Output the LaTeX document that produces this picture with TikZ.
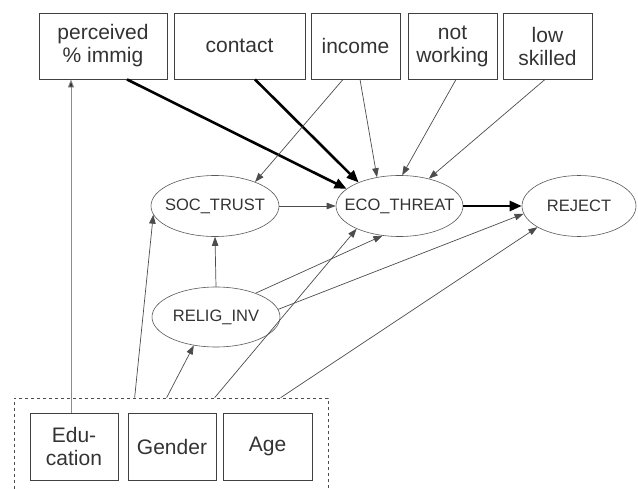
\documentclass[tikz,border=0pt]{standalone}
\usepackage{fontspec}
\setmainfont{Liberation Sans}
\usetikzlibrary{arrows.meta,shapes.geometric,calc}
\begin{document}
\begin{tikzpicture}[x=1pt,y=-1pt,
  box/.style={draw=black!75, line width=0.9pt, text=black!80, font=\fontsize{21}{23}\selectfont, align=center, inner sep=0pt, minimum height=66pt},
  oval/.style={ellipse, draw=black!65, line width=0.6pt, inner sep=0pt, minimum height=61pt, minimum width=128pt,
    label={[text=black!80, font=\fontsize{16.5}{18}\selectfont, inner sep=0pt]center:#1}},
  arr/.style={draw=black!70, line width=0.7pt, -{Triangle[length=9pt,width=6.5pt]}},
  grayarr/.style={draw=black!45, line width=0.8pt, -{Triangle[length=8pt,width=6pt,fill=black!80]}},
  heavy/.style={draw=black, line width=2.6pt, -{Triangle[length=12pt,width=10pt]}},
  grpbox/.style={draw=black!70, dashed, line width=0.7pt, inner sep=0pt}]
\useasboundingbox (0,0) rectangle (638,489);
% top boxes
\node[box, minimum width=128pt] (perc) at (103,46) {perceived\\\% immig};
\node[box, minimum width=131pt] (cont) at (239.5,46) {contact};
\node[box, minimum width=89pt] (inc) at (355.5,46) {income};
\node[box, minimum width=89pt] (notw) at (452.5,46) {not\\working};
\node[box, minimum width=89pt] (lows) at (547.5,46) {low\\skilled};
% ellipses
\node[oval={SOC\_TRUST}] (soc) at (215,206) {};
\node[oval={ECO\_THREAT}, minimum width=127pt] (eco) at (399.5,206) {};
\node[oval={REJECT}, minimum width=114pt] (rej) at (579,206) {};
\node[oval={RELIG\_INV}, minimum height=60pt] (rel) at (216,317) {};
% group of background variables
\node[grpbox, minimum width=314pt, minimum height=100pt] (grp) at (171,448) {};
\node[box, minimum width=88pt, minimum height=67pt] (edu) at (74,446.5) {Edu-\\cation};
\node[box, minimum width=88pt, minimum height=67pt] (gen) at (172,446.5) {Gender};
\node[box, minimum width=89pt, minimum height=67pt] (age) at (267.5,446.5) {Age};
\coordinate (g1) at ([xshift=121pt]grp.north west);
\coordinate (g2) at ([xshift=153pt]grp.north west);
\coordinate (g3) at ([xshift=201pt]grp.north west);
\coordinate (g4) at ([xshift=267pt]grp.north west);
% connectors
\draw[grayarr] ([xshift=-3pt]edu.north) -- ([xshift=-32pt]perc.south);
\draw[heavy] ([xshift=24pt]perc.south) -- (eco.162);
\draw[heavy] ([xshift=15.5pt]cont.south) -- (eco.150);
\draw[arr] ([xshift=-12.5pt]inc.south) -- (soc.31);
\draw[arr] ([xshift=4.5pt]inc.south) -- (eco.128);
\draw[arr] ([xshift=3.5pt]notw.south) -- (eco.85);
\draw[arr] ([xshift=-2.5pt]lows.south) -- (eco.43);
\draw[arr] (soc.east) -- (eco.west);
\draw[heavy] (eco.east) -- (rej.west);
\draw[arr] (rel.north) -- (soc.south);
\draw[arr] (rel.31) -- (eco.240);
\draw[arr] (rel.7) -- (rej.188);
\draw[arr] (g1) -- (soc.188);
\draw[arr] (g2) -- (rel.232);
\draw[arr] (g3) -- (eco.208);
\draw[arr] (g4) -- (rej.207);
\end{tikzpicture}
\end{document}
